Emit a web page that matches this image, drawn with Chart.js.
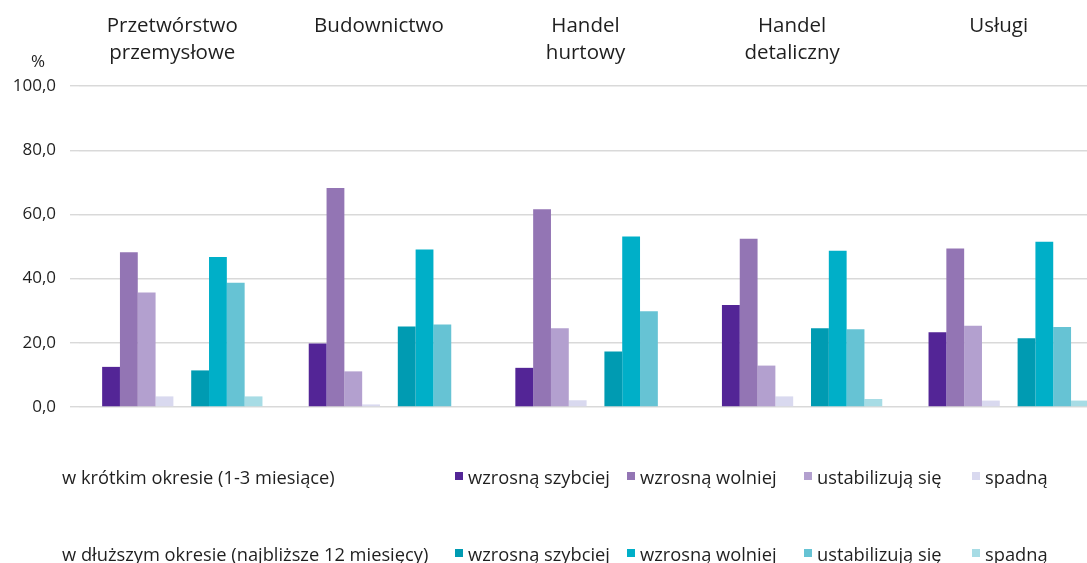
<!DOCTYPE html>
<html lang="pl">
<head>
<meta charset="utf-8">
<script src="https://cdn.jsdelivr.net/npm/chart.js@4.4.1/dist/chart.umd.min.js"></script>
<style>
  html, body { margin: 0; padding: 0; background: #fff; overflow: hidden; width: 1087px; height: 563px; }
  #wrap { position: relative; width: 1087px; height: 563px; overflow: hidden; font-family: "Open Sans", sans-serif; color: #1f1f1f; }
  #c { position: absolute; left: 0; top: 0; }
  #pct { position: absolute; left: 31px; top: 49px; font-size: 17px; }
  .lrow { position: absolute; left: 0; width: 1087px; height: 24px; display: flex; align-items: center; font-size: 18.3px; white-space: nowrap; }
  .lrow .rl { position: absolute; left: 62px; }
  .lrow .items { position: absolute; left: 455px; display: flex; align-items: center; }
  .item { display: flex; align-items: center; }
  .sw { width: 8px; height: 8px; margin-right: 5px; flex: none; }
</style>
</head>
<body>
<div id="wrap">
  <canvas id="c" width="1112" height="563"></canvas>
  <div id="pct">%</div>
  <div class="lrow" id="row0" style="top:464px"></div>
  <div class="lrow" id="row1" style="top:541px"></div>
</div>
<script>
// ---- data ----
const sectors = [['Przetwórstwo', 'przemysłowe'], ['Budownictwo'], ['Handel', 'hurtowy'], ['Handel', 'detaliczny'], ['Usługi']];
const seriesNames = ['wzrosną szybciej', 'wzrosną wolniej', 'ustabilizują się', 'spadną'];
const periodNames = ['w krótkim okresie (1-3 miesiące)', 'w dłuższym okresie (najbliższe 12 miesięcy)'];
const yTickValues = [0, 20, 40, 60, 80, 100];

const shortFaster = [12.5, 19.8, 12.2, 31.8, 23.3];
const shortSlower = [48.2, 68.2, 61.6, 52.4, 49.4];
const shortStable = [35.7, 11.1, 24.5, 12.9, 25.3];
const shortFall   = [3.3, 0.8, 2.1, 3.3, 2.0];

const longFaster = [11.4, 25.1, 17.3, 24.5, 21.4];
const longSlower = [46.7, 49.1, 53.1, 48.7, 51.5];
const longStable = [38.7, 25.7, 29.8, 24.2, 24.9];
const longFall   = [3.3, 0.0, 0.0, 2.5, 2.0];

// ---- styles ----
const shortColors = ['#532596', '#9375B4', '#B3A0CF', '#D9D9EF'];
const longColors  = ['#009BB2', '#00AFC8', '#66C3D4', '#A7DCE5'];

const shortSeries = [shortFaster, shortSlower, shortStable, shortFall];
const longSeries  = [longFaster, longSlower, longStable, longFall];

const datasets = [];
shortSeries.forEach((d, i) => datasets.push({ label: seriesNames[i], data: d, backgroundColor: shortColors[i] }));
datasets.push({ label: '', data: sectors.map(() => null), backgroundColor: 'rgba(0,0,0,0)' });
longSeries.forEach((d, i) => datasets.push({ label: seriesNames[i], data: d, backgroundColor: longColors[i] }));
datasets.forEach(ds => { ds.borderWidth = 0; ds.categoryPercentage = 0.776; ds.barPercentage = 1.0; });

const fmt = v => v.toFixed(1).replace('.', ',');

new Chart(document.getElementById('c'), {
  type: 'bar',
  data: { labels: sectors, datasets },
  options: {
    responsive: false,
    animation: false,
    layout: { padding: { top: 0, bottom: 156, left: 0, right: 0 } },
    plugins: { legend: { display: false }, tooltip: { enabled: false } },
    scales: {
      x: {
        position: 'top',
        grid: { display: false, drawTicks: false },
        border: { display: false },
        ticks: {
          font: { family: 'Open Sans', size: 20.5, lineHeight: 1.32 },
          color: '#1f1f1f',
          crossAlign: 'far',
          labelOffset: -10,
          padding: 19,
          maxRotation: 0,
          autoSkip: false
        },
        afterFit: s => { s.height = 86; }
      },
      y: {
        min: 0, max: 100,
        afterBuildTicks: s => { s.ticks = yTickValues.map(v => ({ value: v })); },
        grid: { color: '#D9D9D9', lineWidth: 1.4, drawTicks: true, tickLength: 9 },
        border: { display: false },
        ticks: {
          font: { family: 'Open Sans', size: 17 },
          color: '#1f1f1f',
          padding: 14,
          callback: v => fmt(v)
        },
        afterFit: s => { s.width = 79; }
      }
    }
  }
});

// ---- legend (HTML) ----
const colWidths = [172, 177, 168, 90];
[shortColors, longColors].forEach((cols, r) => {
  const row = document.getElementById('row' + r);
  const rl = document.createElement('span');
  rl.className = 'rl';
  rl.textContent = periodNames[r];
  row.appendChild(rl);
  const items = document.createElement('div');
  items.className = 'items';
  seriesNames.forEach((n, i) => {
    const it = document.createElement('div');
    it.className = 'item';
    it.style.width = colWidths[i] + 'px';
    const sw = document.createElement('span');
    sw.className = 'sw';
    sw.style.background = cols[i];
    const t = document.createElement('span');
    t.textContent = n;
    it.appendChild(sw); it.appendChild(t);
    items.appendChild(it);
  });
  row.appendChild(items);
});
</script>
</body>
</html>
